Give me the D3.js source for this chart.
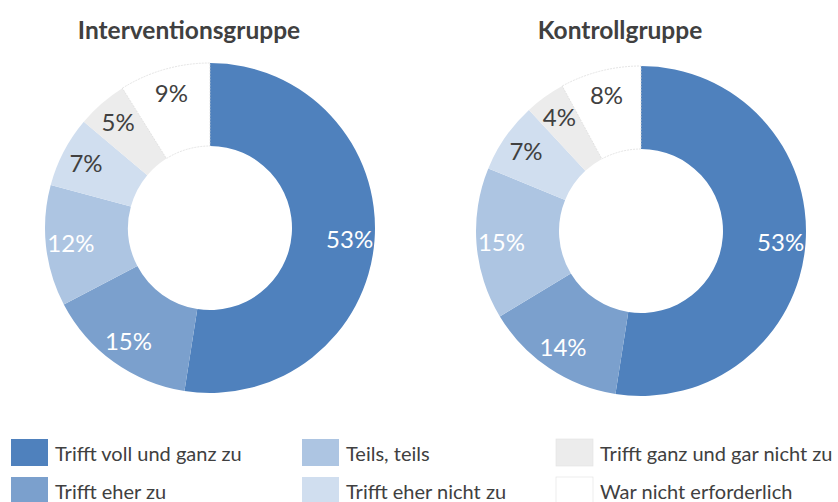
<!DOCTYPE html>
<html>
<head>
<meta charset="utf-8">
<script src="https://cdn.jsdelivr.net/npm/d3@7"></script>
<style>
  body { margin: 0; background: #fff; }
  svg { display: block; font-family: Lato, "Open Sans", sans-serif; }
</style>
</head>
<body>
<svg width="838" height="502"></svg>
<script>
const categories = [
  'Trifft voll und ganz zu',
  'Trifft eher zu',
  'Teils, teils',
  'Trifft eher nicht zu',
  'Trifft ganz und gar nicht zu',
  'War nicht erforderlich'
];
const groups = ['Interventionsgruppe', 'Kontrollgruppe'];
const interventionValues = [53, 15, 12, 7, 5, 9];
const kontrollValues = [53, 14, 15, 7, 4, 8];
const colors = ['#4f81bd', '#7ba0cd', '#adc5e2', '#d0deef', '#ececec', '#ffffff'];
const labelColors = ['#fff', '#fff', '#fff', '#404040', '#404040', '#404040'];

const OUTER = 165;
const INNER = 82;
const LABEL_R = 140;

const svg = d3.select('svg');

const color = d3.scaleOrdinal().domain(categories).range(colors);
const labelColor = d3.scaleOrdinal().domain(categories).range(labelColors);

const pie = d3.pie().sort(null).value(d => d.value);
const arc = d3.arc().innerRadius(INNER).outerRadius(OUTER);
const labelArc = d3.arc().innerRadius(LABEL_R).outerRadius(LABEL_R);

const charts = [
  {title: groups[0], values: interventionValues, cx: 210, cy: 228},
  {title: groups[1], values: kontrollValues, cx: 641, cy: 231}
];

charts.forEach(c => {
  const data = categories.map((cat, i) => ({cat: cat, value: c.values[i]}));

  svg.append('text')
      .attr('x', c.cx - 21)
      .attr('y', 39)
      .attr('text-anchor', 'middle')
      .attr('font-size', 24.5)
      .attr('font-weight', 'bold')
      .attr('fill', '#404040')
      .text(c.title);

  const g = svg.append('g')
      .attr('transform', 'translate(' + c.cx + ',' + c.cy + ')');

  g.selectAll('path')
    .data(pie(data))
    .enter().append('path')
      .attr('d', arc)
      .attr('fill', d => color(d.data.cat))
      .attr('stroke', d => d.data.cat === categories[5] ? '#d9d9d9' : 'none')
      .attr('stroke-width', 0.7)
      .attr('stroke-dasharray', d => d.data.cat === categories[5] ? '2,1' : null);

  g.selectAll('text')
    .data(pie(data))
    .enter().append('text')
      .attr('transform', d => 'translate(' + labelArc.centroid(d) + ')')
      .attr('text-anchor', 'middle')
      .attr('dy', '0.36em')
      .attr('font-size', 24)
      .attr('fill', d => labelColor(d.data.cat))
      .text(d => d.data.value + '%');
});

// legend, 3 columns x 2 rows
const colX = [11, 302, 556];
const rowY = [439, 477];

const legend = svg.append('g');
const item = legend.selectAll('g')
  .data(categories)
  .enter().append('g')
    .attr('transform', (d, i) => 'translate(' + colX[Math.floor(i / 2)] + ',' + rowY[i % 2] + ')');

item.append('rect')
    .attr('width', 37)
    .attr('height', 27)
    .attr('fill', d => color(d))
    .attr('stroke', (d, i) => i >= 4 ? '#e4e4e4' : 'none')
    .attr('stroke-width', 0.7);

item.append('text')
    .attr('x', 44)
    .attr('y', 22)
    .attr('font-size', 20)
    .attr('fill', '#404040')
    .text(d => d);
</script>
</body>
</html>
